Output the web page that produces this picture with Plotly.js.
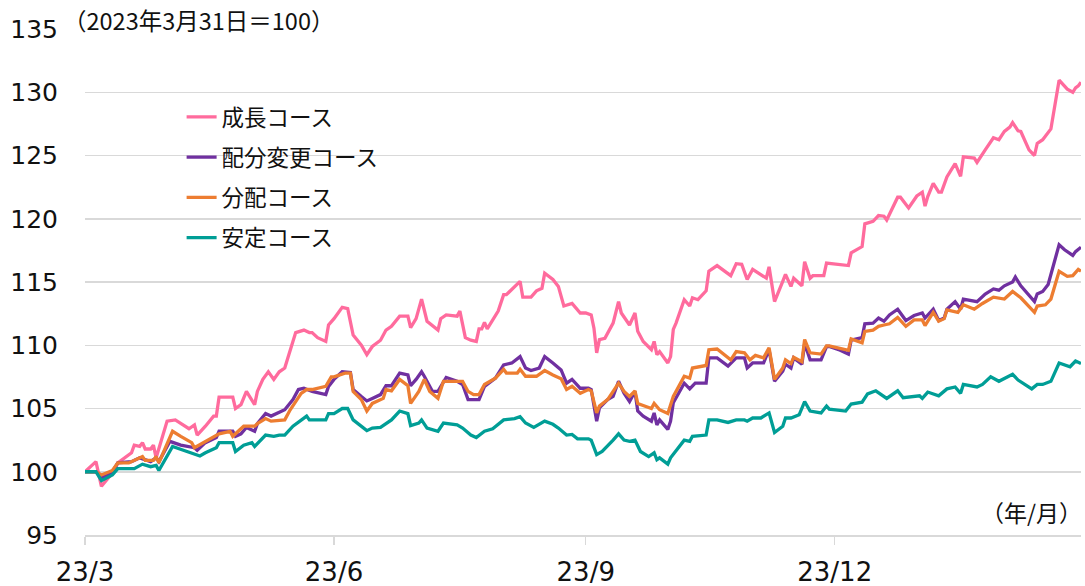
<!DOCTYPE html>
<html>
<head>
<meta charset="utf-8">
<script src="https://cdn.plot.ly/plotly-3.0.1.min.js"></script>
<style>html,body{margin:0;padding:0;background:#fff;}#chart{width:1085px;height:586px;}</style>
</head>
<body>
<div id="chart"></div>
<script>
// x = days elapsed since 2023-03-31
const seriesNames = ['成長コース', '配分変更コース', '分配コース', '安定コース'];
const tickDays = [0, 91, 183, 274];
const tickLabels = ['23/3', '23/6', '23/9', '23/12'];

const growthDays = [0,4,6,8,10,12,15,17,18,20,21,22,24,25,26,30,33,38,40,41,44,47,48,49,54,55,57,59,62,63,65,67,69,71,73,75,77,80,82,83,85,88,89,91,94,96,98,101,103,105,108,110,112,115,118,119,121,123,125,129,130,132,136,137,139,141,143,144,145,146,147,151,153,154,159,160,163,165,167,168,171,173,175,178,181,183,185,186,187,188,190,193,195,196,199,201,202,204,207,208,209,210,213,214,215,216,219,221,222,224,227,228,231,236,238,240,242,244,247,249,250,252,255,256,258,259,262,263,265,266,270,271,279,280,284,285,288,290,292,293,297,298,301,304,306,307,308,310,312,313,315,318,320,321,325,326,329,332,334,336,338,339,341,342,345,347,348,350,353,356,359,361,362,363,364];
const growth = [100.0,100.8,98.85,99.4,99.9,100.7,101.2,101.5,102.1,102.0,102.3,101.8,101.8,102.1,101.1,104.0,104.1,103.4,103.7,102.9,103.6,104.4,104.4,105.9,105.9,105.0,105.3,106.35,105.3,106.35,107.3,107.9,107.3,107.9,108.2,109.6,111.0,111.2,111.0,111.0,110.6,110.3,111.6,112.1,113.0,112.9,110.8,110.0,109.25,109.9,110.4,111.2,111.5,112.3,112.3,111.4,112.1,113.65,111.9,111.2,112.1,112.4,112.3,112.7,110.6,110.4,110.3,111.3,111.3,111.8,111.3,112.7,114.0,114.0,115.05,113.8,113.8,114.3,114.5,115.7,115.2,114.65,113.1,113.3,112.55,112.55,112.4,111.35,109.4,110.45,110.55,111.75,113.45,112.55,111.6,112.55,111.1,110.3,109.65,110.3,109.25,109.5,108.6,109.1,111.25,111.75,113.6,113.1,113.75,113.6,114.3,115.85,116.3,115.5,116.45,116.4,115.2,116.0,115.6,115.3,116.2,113.45,115.05,115.6,114.65,115.3,114.7,116.6,115.3,115.5,115.5,116.5,116.3,117.3,117.8,119.6,119.8,120.25,120.2,119.9,121.7,121.7,120.85,121.8,122.1,121.0,121.75,122.8,122.1,122.1,123.3,124.35,123.35,124.9,124.8,124.45,125.45,126.4,126.25,126.9,127.25,127.6,126.95,126.9,125.45,125.0,125.95,126.25,127.1,130.95,130.25,130.0,130.35,130.5,130.8];

const switchDays = [0,4,6,10,12,17,20,24,26,27,31,35,40,41,44,48,49,54,55,57,59,62,63,66,68,70,73,76,78,80,83,88,89,91,94,97,98,101,103,105,108,110,112,115,118,119,121,123,124,127,129,132,136,138,140,144,146,150,153,156,159,161,163,166,168,171,174,176,178,181,184,185,187,188,191,193,195,197,199,201,202,204,207,208,209,210,213,214,215,219,221,223,227,228,231,235,238,241,242,244,248,250,252,255,256,258,259,262,263,265,269,271,272,276,279,280,284,285,288,290,292,294,297,300,303,306,307,310,312,314,315,318,320,321,326,329,332,334,336,339,340,342,347,348,350,352,356,358,361,362,364];
const switchCourse = [100.0,100.0,99.5,100.0,100.7,100.8,101.1,100.8,101.1,100.8,102.4,102.1,101.9,101.7,102.3,102.7,103.2,103.2,102.8,103.0,103.5,103.2,103.8,104.6,104.4,104.6,104.9,105.7,106.5,106.6,106.35,106.1,106.75,107.3,107.9,107.85,106.5,105.95,105.6,105.8,106.1,106.8,106.8,107.8,107.65,106.8,107.3,107.9,107.55,106.35,106.35,107.45,107.15,106.9,105.7,105.7,106.75,107.4,108.45,108.6,109.1,108.2,108.0,108.2,109.1,108.6,108.05,107.0,107.3,106.6,106.6,106.5,104.0,105.05,105.7,105.95,107.15,106.2,105.55,106.35,104.8,104.4,104.0,104.65,103.7,104.1,103.35,104.0,105.45,107.0,106.55,107.0,107.0,109.0,109.0,108.35,109.0,109.0,108.2,108.6,108.6,109.65,107.15,107.95,108.5,108.2,109.0,108.5,110.15,108.85,108.85,109.9,109.9,109.6,109.3,110.4,110.6,111.7,111.75,112.15,111.9,112.4,112.85,111.95,112.35,112.55,112.15,112.85,111.95,112.15,112.85,113.45,112.85,113.65,113.45,114.05,114.45,114.35,114.7,115.0,115.4,114.7,113.45,114.05,114.25,114.8,117.95,117.55,117.1,117.4,117.75];

const incomeDays = [0,4,6,10,12,16,21,22,25,26,27,32,35,39,40,44,47,49,53,54,58,62,63,66,68,73,75,79,81,83,88,90,91,95,97,98,101,103,105,109,110,112,115,118,119,122,124,126,129,131,135,138,140,142,144,146,150,153,154,158,159,161,165,168,171,174,176,178,181,184,185,187,188,191,195,197,199,201,202,205,207,208,210,213,215,219,221,222,227,228,231,236,238,241,243,245,248,250,252,255,256,258,259,262,263,265,269,271,272,279,280,284,285,288,290,292,294,297,300,303,306,307,309,310,312,314,315,319,321,325,328,332,336,339,342,347,348,351,353,356,359,361,363,364];
const income = [100.0,100.0,99.75,100.1,100.7,100.7,101.2,100.9,100.9,101.2,100.7,103.2,102.8,102.3,101.9,102.4,102.8,103.0,103.2,102.8,103.6,103.6,103.8,104.2,104.0,104.1,104.9,106.2,106.5,106.5,106.75,107.5,107.5,107.8,107.8,106.35,105.7,104.8,105.4,105.8,106.5,106.4,107.3,106.8,105.4,106.35,107.3,106.35,105.8,107.15,107.15,107.15,106.35,106.1,106.1,106.9,107.4,108.1,107.8,107.8,108.1,107.55,107.55,108.0,107.65,107.35,106.5,106.75,106.2,106.5,106.4,104.65,105.2,105.7,107.0,106.35,105.95,106.4,105.4,105.15,105.0,105.4,104.9,104.6,105.95,107.55,107.4,108.2,108.4,109.65,109.7,108.85,109.5,109.4,108.85,109.2,109.0,109.8,107.3,108.2,108.85,108.55,109.05,108.7,110.45,109.4,109.3,109.95,109.95,109.6,110.5,110.2,111.1,111.2,111.5,111.6,111.7,112.2,111.5,112.0,112.0,111.55,112.3,112.6,111.9,112.1,112.8,112.6,113.2,112.85,113.3,113.8,113.65,114.25,113.75,112.6,113.1,113.2,113.65,115.85,115.45,115.5,116.0,115.85];

const stableDays = [0,4,6,10,12,18,21,24,26,27,32,37,42,44,48,49,54,55,58,61,62,66,69,71,73,76,81,82,88,89,91,94,96,98,101,103,105,108,112,115,118,119,122,123,125,129,131,136,138,141,143,146,149,153,157,159,161,164,168,171,173,176,178,180,184,185,187,189,193,195,197,199,201,203,206,208,209,210,213,214,219,221,222,227,228,231,235,238,241,242,244,247,250,252,255,256,258,261,263,265,269,271,272,278,280,284,286,289,293,297,299,305,306,308,312,315,318,320,321,326,328,331,334,339,341,343,346,348,350,353,356,360,362,364];
const stable = [100.0,100.0,99.3,99.75,100.25,100.25,100.6,100.4,100.5,100.1,102.0,101.6,101.25,101.5,101.9,102.3,102.3,101.6,102.1,102.3,102.0,102.9,102.8,102.9,102.9,103.6,104.4,104.1,104.1,104.6,104.6,105.0,105.0,104.1,103.6,103.25,103.45,103.5,104.1,104.8,104.6,103.65,103.85,104.1,103.45,103.2,103.85,103.7,103.45,102.9,102.7,103.2,103.4,104.1,104.2,104.35,103.85,103.5,104.0,103.75,103.45,102.9,102.95,102.6,102.6,102.5,101.35,101.6,102.5,103.0,102.5,102.4,102.5,101.6,101.2,101.5,100.95,101.1,100.6,101.1,102.5,102.4,102.8,102.9,104.1,104.1,103.9,104.1,104.1,104.0,104.25,104.25,104.65,103.1,103.6,104.25,104.25,104.5,105.55,104.8,104.65,105.2,104.95,104.8,105.35,105.5,106.15,106.4,105.8,106.4,105.85,106.0,105.8,106.3,106.0,106.55,106.7,106.2,106.9,106.7,106.9,107.5,107.15,107.7,107.25,107.0,106.55,106.9,106.9,107.15,108.6,108.3,108.75,108.55];

const colors = ['#FF6B9D', '#7030A0', '#ED7D31', '#009E96'];
const xs = [growthDays, switchDays, incomeDays, stableDays];
const ys = [growth, switchCourse, income, stable];

const traces = seriesNames.map((n, i) => ({
  type: 'scatter', mode: 'lines', name: n,
  x: xs[i], y: ys[i], legendgroup: 'g' + i,
  line: {color: colors[i], width: 3.3}
}));

const grid = '#d9d9d9';
const layout = {
  width: 1085, height: 586,
  margin: {l: 85, r: 4, t: 29, b: 51},
  paper_bgcolor: '#fff', plot_bgcolor: '#fff',
  font: {family: 'DejaVu Sans, Verdana, sans-serif', color: '#111'},
  showlegend: true,
  legend: {
    x: 0.097, y: 0.868, xanchor: 'left', yanchor: 'top',
    bgcolor: 'rgba(0,0,0,0)', traceorder: 'grouped', tracegroupgap: 8,
    font: {family: 'Noto Sans CJK JP, sans-serif', size: 22.5, color: '#111'}
  },
  xaxis: {
    type: 'linear', range: [0, 364],
    tickmode: 'array', tickvals: tickDays, ticktext: tickLabels,
    showgrid: false, zeroline: false,
    showline: true, linecolor: grid, linewidth: 1.5,
    ticks: 'outside', ticklen: 8, tickcolor: grid, tickwidth: 1.5,
    ticklabelstandoff: 5,
    tickfont: {family: 'DejaVu Sans, Verdana, sans-serif', size: 26, color: '#111'}
  },
  yaxis: {
    range: [95, 135], dtick: 5, tick0: 95,
    showgrid: true, gridcolor: grid, gridwidth: 1.5,
    zeroline: false, showline: false, ticks: '',
    ticklabelstandoff: 26,
    tickfont: {family: 'DejaVu Sans, Verdana, sans-serif', size: 25, color: '#111'}
  },
  annotations: [
    {text: '（2023年3月31日＝100）', xref: 'paper', yref: 'paper',
     x: -0.024, y: 1.018, xanchor: 'left', yanchor: 'middle', showarrow: false,
     bgcolor: '#fff',
     font: {family: 'Noto Sans CJK JP, sans-serif', size: 23.5, color: '#111'}},
    {text: '（年/月）', xref: 'paper', yref: 'paper',
     x: 1.003, y: 0.045, xanchor: 'right', yanchor: 'middle', showarrow: false,
     font: {family: 'Noto Sans CJK JP, sans-serif', size: 23, color: '#111'}}
  ]
};

Plotly.newPlot('chart', traces, layout, {staticPlot: true, displayModeBar: false});
</script>
</body>
</html>
